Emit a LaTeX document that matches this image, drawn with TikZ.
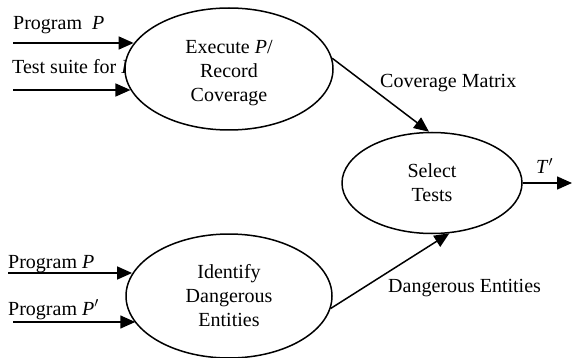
\documentclass[tikz,border=0pt]{standalone}
\usepackage{fontspec}
\setmainfont{Liberation Serif}
\usetikzlibrary{shapes.geometric,arrows.meta}
\newcommand{\stackdown}[2]{\raisebox{-#1}[\height][\depth]{\begin{tabular}{@{}c@{}}#2\end{tabular}}}
\tikzset{
  proc/.style={ellipse, draw, line width=1.5pt, fill=white, inner sep=0pt, align=center,
    font=\fontsize{20}{24}\selectfont},
  lbl/.style={anchor=base west, inner sep=0pt, font=\fontsize{20}{24}\selectfont},
  arr/.style={line width=1.5pt, -{Triangle[length=15pt,width=13pt]}}
}
\begin{document}
\begin{tikzpicture}[x=1pt,y=-1pt]
\useasboundingbox (0,0) rectangle (572,358);
% labels (drawn first so ellipses cover them)
\node[lbl] (tp1) at (13,30) {Program~ \textit{P}};
\node[lbl] (tts) at (12,74) {Test suite for \textit{P}};
\node[lbl] (bp1) at (8,268) {Program \textit{P}};
\node[lbl] (bp2) at (8,315) {Program \textit{P}$'$};
\node[lbl] (cm) at (380,88) {Coverage Matrix};
\node[lbl] (de) at (388,292) {Dangerous Entities};
\node[lbl] (tt) at (536,174) {\textit{T}$'$};
% processes
\node[proc, minimum width=208pt, minimum height=122pt] (e1) at (229,69) {\stackdown{4pt}{Execute \textit{P}/\\Record\\Coverage}};
\node[proc, minimum width=206pt, minimum height=124pt] (e2) at (229,296) {\stackdown{2pt}{Identify\\Dangerous\\Entities}};
\node[proc, minimum width=180pt, minimum height=101pt] (e3) at (432,183) {Select\\Tests};
% free ends
\coordinate (a1) at (13,43);
\coordinate (a2) at (13,90);
\coordinate (a3) at (8,273);
\coordinate (a4) at (13,322);
\coordinate (out) at (572,183);
% connectors
\draw[arr] (a1) -- (a1 -| e1.165.24);
\draw[arr] (a2) -- (a2 -| e1.192.78);
\draw[arr] (a3) -- (a3 -| e2.167.13);
\draw[arr] (a4) -- (a4 -| e2.196.24);
\draw[arr] (e1.6) -- ([xshift=-3pt]e3.north);
\draw[arr] (e2.-7) -- (e3.-71);
\draw[arr] (e3.east) -- (out);
\end{tikzpicture}
\end{document}
